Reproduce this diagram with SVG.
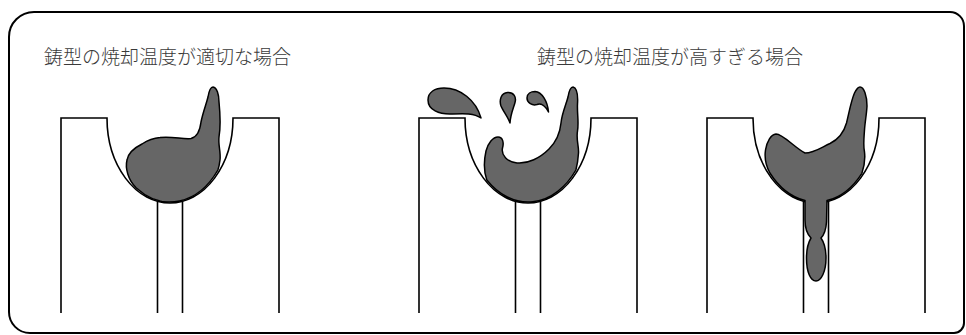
<svg xmlns="http://www.w3.org/2000/svg" width="966" height="335" viewBox="0 0 966 335">
  <style>
    .border { fill: none; stroke: #000; stroke-width: 2; }
    .mold { fill: none; stroke: #000; stroke-width: 1.6; }
    .metal { fill: #666666; stroke: #000; stroke-width: 1.5; stroke-linejoin: round; }
    .caption { font-family: "Noto Sans CJK JP", "Noto Sans", sans-serif; font-size: 19px; font-weight: 300; fill: #3a3a3a; }
  </style>
  <rect width="966" height="335" fill="#ffffff"/>

  <!-- outer rounded frame -->
  <path class="border" d="M 34,12 H 950 A 14 14 0 0 1 964,26 V 323 A 10 10 0 0 1 954,333 H 30 A 21 21 0 0 1 9,312 V 37 A 25 25 0 0 1 34,12 Z"/>

  <text class="caption" x="44" y="64">鋳型の焼却温度が適切な場合</text>
  <text class="caption" x="537" y="64">鋳型の焼却温度が高すぎる場合</text>

  <!-- mold 1: proper burn-out temperature -->
  <g id="mold-proper">
    <path class="mold" d="M 61,313 V 118 H 107 A 63 85 0 0 0 233,118 H 279 V 313"/>
    <path class="mold" d="M 157.5,201.3 V 313 M 182.5,201.3 V 313"/>
    <path class="metal" d="M 213,87
      C 217,87.5 219,95 219,102
      C 220,112 221,125 219,137
      C 218,145 221,152 220,160
      C 219.5,164 219,167 217.9,170
      A 61 84 0 0 1 136.3,188
      C 128,180 125,168 127,160
      C 128,154 134,148 142,144
      C 148,140 153,138 160,137.5
      C 172,136 183,139.5 191,138.5
      C 198,137 200,130 201,122
      C 203,112 206,105 208,97
      C 209,91 210,87 213,87 Z"/>
  </g>

  <!-- mold 2: splashing at too high temperature -->
  <g id="mold-splash">
    <path class="mold" d="M 419,313 V 118 H 465 A 63 85 0 0 0 591,118 H 637 V 313"/>
    <path class="mold" d="M 515.5,201.3 V 313 M 540.5,201.3 V 313"/>
    <path class="metal" d="M 573,87
      C 577,88 578,96 577.5,104
      C 577,114 579,122 577.5,131
      C 576,140 579,146 578.5,153
      C 578,161 577,166 575.9,170
      A 61 84 0 0 1 486.8,180
      C 484,172 484,160 486,151
      C 488,143 493,137 498,137
      C 503,137 504,143 502.5,148
      C 501,155 507,162 517,163
      C 528,164 540,158 549,149
      C 556,142 560,133 561,123
      C 562,113 566,105 568,97
      C 569,91 570,87 573,87 Z"/>
    <path class="metal" d="M 428,100
      C 428,92 435,88 444,88
      C 460,88 476,100 481,118
      C 474,113 464,113.5 452,114
      C 439,114.5 428,110 428,100 Z"/>
    <path class="metal" d="M 510,123
      C 508,117 503,111 501,106
      C 499,100 501,93 507.5,92.5
      C 514,92 516.5,97.5 515,102.5
      C 513.5,108 510.5,114 510,123 Z"/>
    <path class="metal" d="M 548.5,112
      C 545.5,106 541,103 537,104.5
      C 532.5,106 527,103 527,98
      C 527,93.5 531,91.5 535,91.5
      C 542,92 547.5,101 548.5,112 Z"/>
  </g>

  <!-- mold 3: metal running into the sprue -->
  <g id="mold-runthrough">
    <path class="mold" d="M 707,313 V 118 H 753 A 63 85 0 0 0 879,118 H 925 V 313"/>
    <path class="mold" d="M 803.5,201.3 V 313 M 828.5,201.3 V 313"/>
    <path class="metal" d="M 860,87
      C 864,87 867,96 867,106
      C 866.5,115 865,122 864.5,130
      C 864,138 863,145 864.5,152
      C 865.5,160 864,167 861.9,173.3
      A 61 84 0 0 1 827,200.6
      L 826.5,222
      C 826,230 824,235 821,238
      C 824.5,243 826,250 826,258
      C 826,272 821,281 816,281
      C 810.5,281 806.5,272 806.5,258
      C 806.5,250 808,243 811,238
      C 807,234 805,228 805,220
      L 805,200.6
      A 61 84 0 0 1 769.9,173
      C 766,166 764.5,157 765.5,150
      C 767,141 771,134.5 776,134
      C 783,134 795,148 805,153
      C 814,153 822,147 830,143.5
      C 839,139 844,132 846.5,123
      C 849,113 851,101 854.5,93
      C 856.5,89 858,87 860,87 Z"/>
  </g>
</svg>
